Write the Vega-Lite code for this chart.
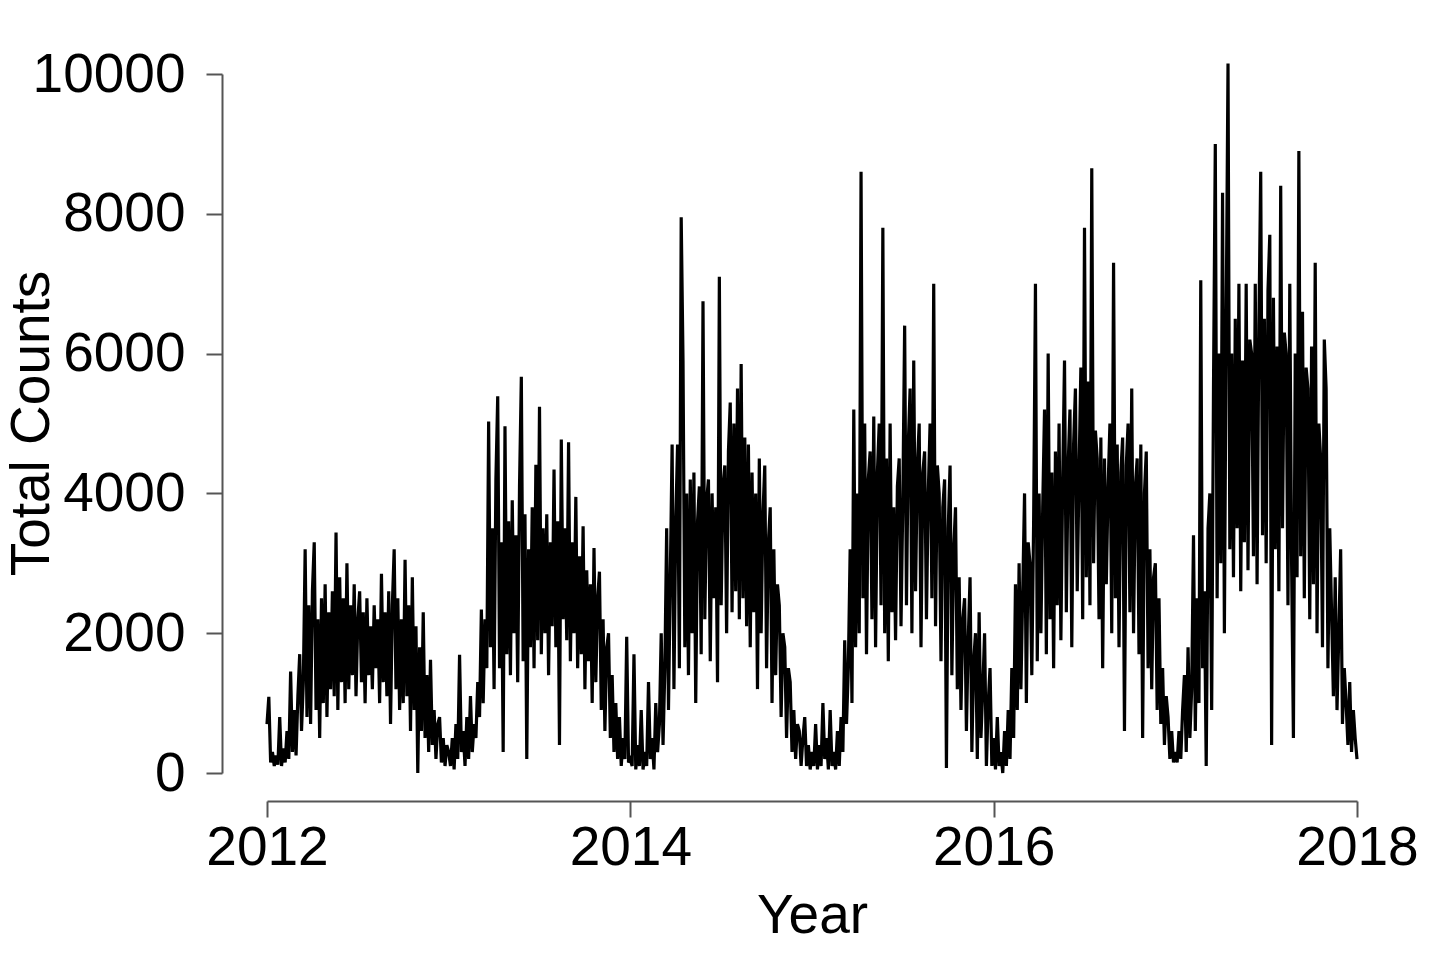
{
"$schema": "https://vega.github.io/schema/vega-lite/v6.json",
"autosize": "none",
"width": 1090,
"height": 699,
"padding": {"left": 267, "top": 74, "right": 78, "bottom": 184},
"background": "white",
"config": {"view": {"stroke": null}, "font": "Liberation Sans"},
"data": {"values": [
{"t":2012.00,"v":700},{"t":2012.01,"v":1090},{"t":2012.02,"v":150},{"t":2012.03,"v":300},{"t":2012.04,"v":100},{"t":2012.05,"v":250},{"t":2012.06,"v":120},{"t":2012.07,"v":800},{"t":2012.08,"v":100},{"t":2012.09,"v":350},
{"t":2012.10,"v":150},{"t":2012.11,"v":600},{"t":2012.12,"v":200},{"t":2012.13,"v":1450},{"t":2012.14,"v":300},{"t":2012.15,"v":900},{"t":2012.16,"v":250},{"t":2012.17,"v":1100},{"t":2012.18,"v":1700},{"t":2012.19,"v":600},
{"t":2012.20,"v":1300},{"t":2012.21,"v":3200},{"t":2012.22,"v":800},{"t":2012.23,"v":2400},{"t":2012.24,"v":700},{"t":2012.25,"v":2600},{"t":2012.26,"v":3300},{"t":2012.27,"v":900},{"t":2012.28,"v":2200},{"t":2012.29,"v":500},
{"t":2012.30,"v":2500},{"t":2012.31,"v":1000},{"t":2012.32,"v":2700},{"t":2012.33,"v":800},{"t":2012.34,"v":2300},{"t":2012.35,"v":1200},{"t":2012.36,"v":2600},{"t":2012.37,"v":1100},{"t":2012.38,"v":3440},{"t":2012.39,"v":900},
{"t":2012.40,"v":2800},{"t":2012.41,"v":1300},{"t":2012.42,"v":2500},{"t":2012.43,"v":1000},{"t":2012.44,"v":3000},{"t":2012.45,"v":1200},{"t":2012.46,"v":2400},{"t":2012.47,"v":1400},{"t":2012.48,"v":2700},{"t":2012.49,"v":1100},
{"t":2012.50,"v":2200},{"t":2012.51,"v":2600},{"t":2012.52,"v":1300},{"t":2012.53,"v":2300},{"t":2012.54,"v":1000},{"t":2012.55,"v":2500},{"t":2012.56,"v":1400},{"t":2012.57,"v":2100},{"t":2012.58,"v":1200},{"t":2012.59,"v":2400},
{"t":2012.60,"v":1500},{"t":2012.61,"v":2200},{"t":2012.62,"v":1000},{"t":2012.63,"v":2850},{"t":2012.64,"v":1300},{"t":2012.65,"v":2300},{"t":2012.66,"v":1100},{"t":2012.67,"v":2600},{"t":2012.68,"v":700},{"t":2012.69,"v":2400},
{"t":2012.70,"v":3200},{"t":2012.71,"v":1200},{"t":2012.72,"v":2500},{"t":2012.73,"v":900},{"t":2012.74,"v":2200},{"t":2012.75,"v":1000},{"t":2012.76,"v":3050},{"t":2012.77,"v":1100},{"t":2012.78,"v":2400},{"t":2012.79,"v":600},
{"t":2012.80,"v":2800},{"t":2012.81,"v":900},{"t":2012.82,"v":2100},{"t":2012.83,"v":0},{"t":2012.84,"v":1800},{"t":2012.85,"v":600},{"t":2012.86,"v":2300},{"t":2012.87,"v":500},{"t":2012.88,"v":1400},{"t":2012.89,"v":300},
{"t":2012.90,"v":1620},{"t":2012.91,"v":400},{"t":2012.92,"v":900},{"t":2012.93,"v":200},{"t":2012.94,"v":700},{"t":2012.95,"v":800},{"t":2012.96,"v":150},{"t":2012.97,"v":500},{"t":2012.98,"v":100},{"t":2012.99,"v":400},
{"t":2013.00,"v":300},{"t":2013.01,"v":100},{"t":2013.02,"v":500},{"t":2013.03,"v":50},{"t":2013.04,"v":700},{"t":2013.05,"v":200},{"t":2013.06,"v":1690},{"t":2013.07,"v":300},{"t":2013.08,"v":600},{"t":2013.09,"v":100},
{"t":2013.10,"v":800},{"t":2013.11,"v":200},{"t":2013.12,"v":1100},{"t":2013.13,"v":300},{"t":2013.14,"v":700},{"t":2013.15,"v":500},{"t":2013.16,"v":1300},{"t":2013.17,"v":800},{"t":2013.18,"v":2340},{"t":2013.19,"v":1000},
{"t":2013.20,"v":2200},{"t":2013.21,"v":1500},{"t":2013.22,"v":5030},{"t":2013.23,"v":1800},{"t":2013.24,"v":3500},{"t":2013.25,"v":1200},{"t":2013.26,"v":4200},{"t":2013.27,"v":5390},{"t":2013.28,"v":1500},{"t":2013.29,"v":3300},
{"t":2013.30,"v":300},{"t":2013.31,"v":4960},{"t":2013.32,"v":1700},{"t":2013.33,"v":3600},{"t":2013.34,"v":1400},{"t":2013.35,"v":3900},{"t":2013.36,"v":2000},{"t":2013.37,"v":3400},{"t":2013.38,"v":1300},{"t":2013.39,"v":4100},
{"t":2013.40,"v":5670},{"t":2013.41,"v":1600},{"t":2013.42,"v":3700},{"t":2013.43,"v":200},{"t":2013.44,"v":3200},{"t":2013.45,"v":1800},{"t":2013.46,"v":3800},{"t":2013.47,"v":1500},{"t":2013.48,"v":4410},{"t":2013.49,"v":1900},
{"t":2013.50,"v":5240},{"t":2013.51,"v":1700},{"t":2013.52,"v":3500},{"t":2013.53,"v":2000},{"t":2013.54,"v":3700},{"t":2013.55,"v":1400},{"t":2013.56,"v":3300},{"t":2013.57,"v":2100},{"t":2013.58,"v":4340},{"t":2013.59,"v":1800},
{"t":2013.60,"v":3600},{"t":2013.61,"v":400},{"t":2013.62,"v":4770},{"t":2013.63,"v":2200},{"t":2013.64,"v":3500},{"t":2013.65,"v":1900},{"t":2013.66,"v":4730},{"t":2013.67,"v":1600},{"t":2013.68,"v":3300},{"t":2013.69,"v":2000},
{"t":2013.70,"v":3950},{"t":2013.71,"v":1500},{"t":2013.72,"v":3100},{"t":2013.73,"v":1700},{"t":2013.74,"v":3530},{"t":2013.75,"v":1200},{"t":2013.76,"v":2900},{"t":2013.77,"v":1600},{"t":2013.78,"v":2700},{"t":2013.79,"v":1000},
{"t":2013.80,"v":3220},{"t":2013.81,"v":1300},{"t":2013.82,"v":2500},{"t":2013.83,"v":2880},{"t":2013.84,"v":900},{"t":2013.85,"v":2200},{"t":2013.86,"v":600},{"t":2013.87,"v":1800},{"t":2013.88,"v":2000},{"t":2013.89,"v":500},
{"t":2013.90,"v":1400},{"t":2013.91,"v":300},{"t":2013.92,"v":1000},{"t":2013.93,"v":200},{"t":2013.94,"v":800},{"t":2013.95,"v":100},{"t":2013.96,"v":500},{"t":2013.97,"v":200},{"t":2013.98,"v":1950},{"t":2013.99,"v":150},
{"t":2014.00,"v":200},{"t":2014.01,"v":100},{"t":2014.02,"v":1700},{"t":2014.03,"v":50},{"t":2014.04,"v":400},{"t":2014.05,"v":100},{"t":2014.06,"v":900},{"t":2014.07,"v":50},{"t":2014.08,"v":300},{"t":2014.09,"v":100},
{"t":2014.10,"v":1300},{"t":2014.11,"v":200},{"t":2014.12,"v":500},{"t":2014.13,"v":50},{"t":2014.14,"v":1000},{"t":2014.15,"v":300},{"t":2014.16,"v":700},{"t":2014.17,"v":2000},{"t":2014.18,"v":400},{"t":2014.19,"v":1500},
{"t":2014.20,"v":3500},{"t":2014.21,"v":900},{"t":2014.22,"v":2800},{"t":2014.23,"v":4700},{"t":2014.24,"v":1200},{"t":2014.25,"v":3600},{"t":2014.26,"v":4700},{"t":2014.27,"v":1500},{"t":2014.28,"v":7950},{"t":2014.29,"v":5900},
{"t":2014.30,"v":1800},{"t":2014.31,"v":4000},{"t":2014.32,"v":1400},{"t":2014.33,"v":4200},{"t":2014.34,"v":2000},{"t":2014.35,"v":4300},{"t":2014.36,"v":1000},{"t":2014.37,"v":3600},{"t":2014.38,"v":4100},{"t":2014.39,"v":1700},
{"t":2014.40,"v":6750},{"t":2014.41,"v":2200},{"t":2014.42,"v":3900},{"t":2014.43,"v":4200},{"t":2014.44,"v":1600},{"t":2014.45,"v":4000},{"t":2014.46,"v":2500},{"t":2014.47,"v":3800},{"t":2014.48,"v":1300},{"t":2014.49,"v":7100},
{"t":2014.50,"v":2400},{"t":2014.51,"v":4100},{"t":2014.52,"v":4400},{"t":2014.53,"v":2000},{"t":2014.54,"v":4600},{"t":2014.55,"v":5300},{"t":2014.56,"v":2300},{"t":2014.57,"v":5000},{"t":2014.58,"v":2600},{"t":2014.59,"v":5500},
{"t":2014.60,"v":2200},{"t":2014.61,"v":5850},{"t":2014.62,"v":2500},{"t":2014.63,"v":4800},{"t":2014.64,"v":2100},{"t":2014.65,"v":4700},{"t":2014.66,"v":1800},{"t":2014.67,"v":4300},{"t":2014.68,"v":2300},{"t":2014.69,"v":4000},
{"t":2014.70,"v":1200},{"t":2014.71,"v":4500},{"t":2014.72,"v":2000},{"t":2014.73,"v":3700},{"t":2014.74,"v":4400},{"t":2014.75,"v":1500},{"t":2014.76,"v":3300},{"t":2014.77,"v":3800},{"t":2014.78,"v":1000},{"t":2014.79,"v":3200},
{"t":2014.80,"v":1400},{"t":2014.81,"v":2700},{"t":2014.82,"v":2400},{"t":2014.83,"v":800},{"t":2014.84,"v":2000},{"t":2014.85,"v":1800},{"t":2014.86,"v":500},{"t":2014.87,"v":1500},{"t":2014.88,"v":1300},{"t":2014.89,"v":300},
{"t":2014.90,"v":900},{"t":2014.91,"v":200},{"t":2014.92,"v":700},{"t":2014.93,"v":600},{"t":2014.94,"v":100},{"t":2014.95,"v":500},{"t":2014.96,"v":800},{"t":2014.97,"v":100},{"t":2014.98,"v":400},{"t":2014.99,"v":50},
{"t":2015.00,"v":300},{"t":2015.01,"v":100},{"t":2015.02,"v":700},{"t":2015.03,"v":50},{"t":2015.04,"v":400},{"t":2015.05,"v":100},{"t":2015.06,"v":1000},{"t":2015.07,"v":200},{"t":2015.08,"v":500},{"t":2015.09,"v":50},
{"t":2015.10,"v":900},{"t":2015.11,"v":100},{"t":2015.12,"v":300},{"t":2015.13,"v":50},{"t":2015.14,"v":600},{"t":2015.15,"v":100},{"t":2015.16,"v":800},{"t":2015.17,"v":300},{"t":2015.18,"v":1900},{"t":2015.19,"v":700},
{"t":2015.20,"v":1500},{"t":2015.21,"v":3200},{"t":2015.22,"v":1000},{"t":2015.23,"v":5200},{"t":2015.24,"v":1800},{"t":2015.25,"v":4000},{"t":2015.26,"v":2000},{"t":2015.27,"v":8600},{"t":2015.28,"v":2500},{"t":2015.29,"v":5000},
{"t":2015.30,"v":1700},{"t":2015.31,"v":4200},{"t":2015.32,"v":4600},{"t":2015.33,"v":2200},{"t":2015.34,"v":5100},{"t":2015.35,"v":1800},{"t":2015.36,"v":4300},{"t":2015.37,"v":5000},{"t":2015.38,"v":2400},{"t":2015.39,"v":7800},
{"t":2015.40,"v":2000},{"t":2015.41,"v":4500},{"t":2015.42,"v":1600},{"t":2015.43,"v":5000},{"t":2015.44,"v":2300},{"t":2015.45,"v":3800},{"t":2015.46,"v":1900},{"t":2015.47,"v":4100},{"t":2015.48,"v":4500},{"t":2015.49,"v":2100},
{"t":2015.50,"v":3900},{"t":2015.51,"v":6400},{"t":2015.52,"v":2400},{"t":2015.53,"v":4700},{"t":2015.54,"v":5500},{"t":2015.55,"v":2000},{"t":2015.56,"v":5900},{"t":2015.57,"v":2600},{"t":2015.58,"v":4400},{"t":2015.59,"v":5000},
{"t":2015.60,"v":1800},{"t":2015.61,"v":4300},{"t":2015.62,"v":4600},{"t":2015.63,"v":2200},{"t":2015.64,"v":4000},{"t":2015.65,"v":5000},{"t":2015.66,"v":2500},{"t":2015.67,"v":7000},{"t":2015.68,"v":2100},{"t":2015.69,"v":4400},
{"t":2015.70,"v":4000},{"t":2015.71,"v":1600},{"t":2015.72,"v":3800},{"t":2015.73,"v":4200},{"t":2015.74,"v":70},{"t":2015.75,"v":3500},{"t":2015.76,"v":4400},{"t":2015.77,"v":1400},{"t":2015.78,"v":3200},{"t":2015.79,"v":3800},
{"t":2015.80,"v":1200},{"t":2015.81,"v":2800},{"t":2015.82,"v":900},{"t":2015.83,"v":2200},{"t":2015.84,"v":2500},{"t":2015.85,"v":600},{"t":2015.86,"v":1900},{"t":2015.87,"v":2800},{"t":2015.88,"v":300},{"t":2015.89,"v":1600},
{"t":2015.90,"v":2000},{"t":2015.91,"v":200},{"t":2015.92,"v":2300},{"t":2015.93,"v":500},{"t":2015.94,"v":1200},{"t":2015.95,"v":2000},{"t":2015.96,"v":100},{"t":2015.97,"v":1000},{"t":2015.98,"v":1500},{"t":2015.99,"v":100},
{"t":2016.00,"v":500},{"t":2016.01,"v":50},{"t":2016.02,"v":800},{"t":2016.03,"v":100},{"t":2016.04,"v":300},{"t":2016.05,"v":0},{"t":2016.06,"v":600},{"t":2016.07,"v":100},{"t":2016.08,"v":900},{"t":2016.09,"v":200},
{"t":2016.10,"v":1500},{"t":2016.11,"v":500},{"t":2016.12,"v":2700},{"t":2016.13,"v":900},{"t":2016.14,"v":3000},{"t":2016.15,"v":1200},{"t":2016.16,"v":2600},{"t":2016.17,"v":4000},{"t":2016.18,"v":1000},{"t":2016.19,"v":3300},
{"t":2016.20,"v":3000},{"t":2016.21,"v":1400},{"t":2016.22,"v":3600},{"t":2016.23,"v":7000},{"t":2016.24,"v":1600},{"t":2016.25,"v":4000},{"t":2016.26,"v":2000},{"t":2016.27,"v":3800},{"t":2016.28,"v":5200},{"t":2016.29,"v":1700},
{"t":2016.30,"v":6000},{"t":2016.31,"v":2200},{"t":2016.32,"v":4300},{"t":2016.33,"v":1500},{"t":2016.34,"v":4600},{"t":2016.35,"v":2400},{"t":2016.36,"v":5000},{"t":2016.37,"v":1900},{"t":2016.38,"v":4200},{"t":2016.39,"v":5900},
{"t":2016.40,"v":2300},{"t":2016.41,"v":4400},{"t":2016.42,"v":5200},{"t":2016.43,"v":1800},{"t":2016.44,"v":4700},{"t":2016.45,"v":5500},{"t":2016.46,"v":2600},{"t":2016.47,"v":4300},{"t":2016.48,"v":5800},{"t":2016.49,"v":2200},
{"t":2016.50,"v":7800},{"t":2016.51,"v":2800},{"t":2016.52,"v":5600},{"t":2016.53,"v":2400},{"t":2016.54,"v":8650},{"t":2016.55,"v":3000},{"t":2016.56,"v":4900},{"t":2016.57,"v":4500},{"t":2016.58,"v":2200},{"t":2016.59,"v":4800},
{"t":2016.60,"v":1500},{"t":2016.61,"v":4500},{"t":2016.62,"v":2700},{"t":2016.63,"v":4100},{"t":2016.64,"v":5000},{"t":2016.65,"v":2000},{"t":2016.66,"v":7300},{"t":2016.67,"v":2500},{"t":2016.68,"v":4700},{"t":2016.69,"v":1800},
{"t":2016.70,"v":4300},{"t":2016.71,"v":4800},{"t":2016.72,"v":600},{"t":2016.73,"v":4400},{"t":2016.74,"v":5000},{"t":2016.75,"v":2300},{"t":2016.76,"v":5500},{"t":2016.77,"v":2000},{"t":2016.78,"v":4100},{"t":2016.79,"v":4500},
{"t":2016.80,"v":1700},{"t":2016.81,"v":4700},{"t":2016.82,"v":500},{"t":2016.83,"v":4000},{"t":2016.84,"v":4600},{"t":2016.85,"v":1500},{"t":2016.86,"v":3200},{"t":2016.87,"v":1200},{"t":2016.88,"v":2800},{"t":2016.89,"v":3000},
{"t":2016.90,"v":900},{"t":2016.91,"v":2500},{"t":2016.92,"v":700},{"t":2016.93,"v":1500},{"t":2016.94,"v":400},{"t":2016.95,"v":1100},{"t":2016.96,"v":800},{"t":2016.97,"v":200},{"t":2016.98,"v":600},{"t":2016.99,"v":150},
{"t":2017.00,"v":300},{"t":2017.01,"v":150},{"t":2017.02,"v":600},{"t":2017.03,"v":200},{"t":2017.04,"v":900},{"t":2017.05,"v":1400},{"t":2017.06,"v":300},{"t":2017.07,"v":1800},{"t":2017.08,"v":500},{"t":2017.09,"v":1200},
{"t":2017.10,"v":3400},{"t":2017.11,"v":600},{"t":2017.12,"v":2500},{"t":2017.13,"v":1000},{"t":2017.14,"v":7050},{"t":2017.15,"v":1500},{"t":2017.16,"v":2600},{"t":2017.17,"v":100},{"t":2017.18,"v":3500},{"t":2017.19,"v":4000},
{"t":2017.20,"v":900},{"t":2017.21,"v":5500},{"t":2017.22,"v":9000},{"t":2017.23,"v":2500},{"t":2017.24,"v":6000},{"t":2017.25,"v":3000},{"t":2017.26,"v":8300},{"t":2017.27,"v":2000},{"t":2017.28,"v":6500},{"t":2017.29,"v":10150},
{"t":2017.30,"v":3200},{"t":2017.31,"v":6000},{"t":2017.32,"v":2800},{"t":2017.33,"v":6500},{"t":2017.34,"v":3500},{"t":2017.35,"v":7000},{"t":2017.36,"v":2600},{"t":2017.37,"v":5900},{"t":2017.38,"v":3300},{"t":2017.39,"v":7000},
{"t":2017.40,"v":2900},{"t":2017.41,"v":6200},{"t":2017.42,"v":6000},{"t":2017.43,"v":3100},{"t":2017.44,"v":7000},{"t":2017.45,"v":2700},{"t":2017.46,"v":6400},{"t":2017.47,"v":8600},{"t":2017.48,"v":3400},{"t":2017.49,"v":6500},
{"t":2017.50,"v":3000},{"t":2017.51,"v":6900},{"t":2017.52,"v":7700},{"t":2017.53,"v":400},{"t":2017.54,"v":6800},{"t":2017.55,"v":3200},{"t":2017.56,"v":6100},{"t":2017.57,"v":2600},{"t":2017.58,"v":8400},{"t":2017.59,"v":3500},
{"t":2017.60,"v":6300},{"t":2017.61,"v":6000},{"t":2017.62,"v":2400},{"t":2017.63,"v":7000},{"t":2017.64,"v":3000},{"t":2017.65,"v":500},{"t":2017.66,"v":6000},{"t":2017.67,"v":2800},{"t":2017.68,"v":8900},{"t":2017.69,"v":3100},
{"t":2017.70,"v":6600},{"t":2017.71,"v":2500},{"t":2017.72,"v":5800},{"t":2017.73,"v":5500},{"t":2017.74,"v":2200},{"t":2017.75,"v":6100},{"t":2017.76,"v":2700},{"t":2017.77,"v":7300},{"t":2017.78,"v":2000},{"t":2017.79,"v":5000},
{"t":2017.80,"v":4500},{"t":2017.81,"v":1800},{"t":2017.82,"v":6200},{"t":2017.83,"v":5500},{"t":2017.84,"v":1500},{"t":2017.85,"v":3500},{"t":2017.86,"v":2300},{"t":2017.87,"v":1100},{"t":2017.88,"v":2800},{"t":2017.89,"v":900},
{"t":2017.90,"v":2000},{"t":2017.91,"v":3200},{"t":2017.92,"v":700},{"t":2017.93,"v":1500},{"t":2017.94,"v":1000},{"t":2017.95,"v":400},{"t":2017.96,"v":1300},{"t":2017.97,"v":300},{"t":2017.98,"v":900},{"t":2017.99,"v":500},
{"t":2018.00,"v":200}
]},
"mark": {"type": "line", "color": "black", "strokeWidth": 3.2, "clip": false, "strokeJoin": "miter"},
"encoding": {
"x": {"field": "t", "type": "quantitative",
  "scale": {"domain": [2012, 2018], "nice": false, "zero": false},
  "axis": {"values": [2012, 2014, 2016, 2018], "format": "d", "offset": 28, "grid": false,
    "domainColor": "#555555", "domainWidth": 2, "tickColor": "#555555", "tickWidth": 2, "tickSize": 16,
    "labelFont": "Liberation Sans", "labelFontSize": 55, "labelColor": "black", "labelPadding": 4, "labelFlush": false, "labelOverlap": false,
    "title": "Year", "titleFont": "Liberation Sans", "titleFontSize": 55, "titleFontWeight": "normal", "titleColor": "black",
    "titleX": 545, "titleY": 131, "titleBaseline": "alphabetic", "titleAlign": "center", "titleAnchor": null}},
"y": {"field": "v", "type": "quantitative",
  "scale": {"domain": [0, 10000], "nice": false},
  "axis": {"values": [0, 2000, 4000, 6000, 8000, 10000], "format": "d", "offset": 45, "grid": false,
    "domainColor": "#555555", "domainWidth": 2, "tickColor": "#555555", "tickWidth": 2, "tickSize": 16,
    "labelFont": "Liberation Sans", "labelFontSize": 55, "labelColor": "black", "labelPadding": 21, "labelFlush": false, "labelOverlap": false,
    "title": "Total Counts", "titleFont": "Liberation Sans", "titleFontSize": 55, "titleFontWeight": "normal", "titleColor": "black",
    "titleX": -174, "titleY": 349, "titleAngle": -90, "titleBaseline": "alphabetic", "titleAlign": "center"}}
}
}
